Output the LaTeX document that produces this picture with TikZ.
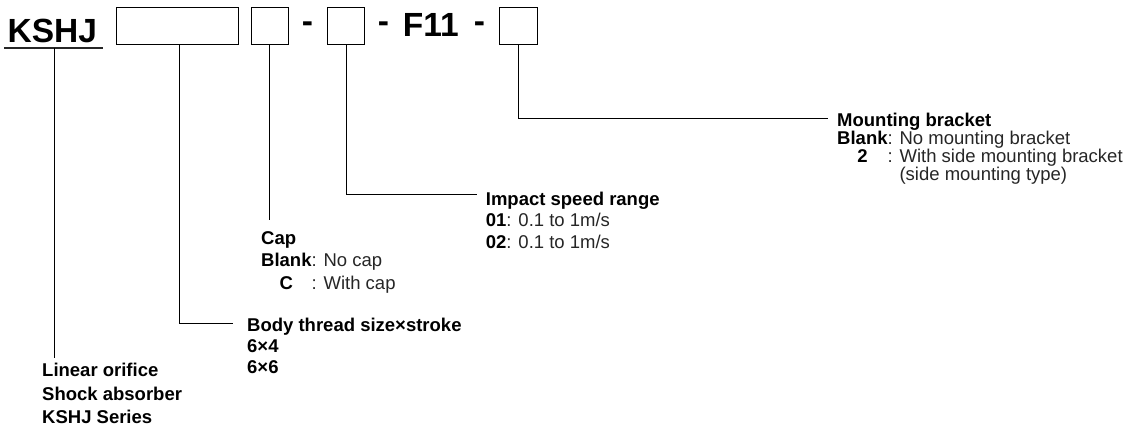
\documentclass[tikz,border=0pt]{standalone}
\usepackage{fontspec}
\setmainfont{Liberation Sans}
\begin{document}
\begin{tikzpicture}[x=1pt,y=-1pt,
  pbox/.style={draw=black, line width=1.1pt, minimum height=37pt, inner sep=0pt, anchor=north west},
  lead/.style={draw=black, line width=0.9pt},
  big/.style={font=\fontsize{33.5}{36}\selectfont\bfseries, inner sep=0pt, anchor=base west},
  desc/.style={font=\fontsize{18.5}{22}\selectfont, text=black!85, inner sep=0pt, anchor=base west},
]
\useasboundingbox (0,0) rectangle (1131,429);

% code boxes
\node[pbox, minimum width=122pt]  (b1) at (116,6.7) {};
\node[pbox, minimum width=37.5pt] (b2) at (250.7,6.7) {};
\node[pbox, minimum width=37.5pt] (b3) at (326.7,6.7) {};
\node[pbox, minimum width=37.5pt] (b4) at (499,6.7) {};

% code text
\node[big] (kshj) at (7.5,42.7) {KSHJ};
\node[big] (d1) at (301.7,32.7) {-};
\node[big] (d2) at (377.7,32.7) {-};
\node[big] (f11) at (402.6,36.7) {F11};
\node[big] (d3) at (473.7,32.7) {-};

% underline
\coordinate (u1) at (4,47.7);
\coordinate (u2) at (103,47.7);
\draw[line width=1.6pt, black!85] (u1) -- (u2);

% descriptions
\node[desc] (mount) at (837,126.7) {\fontsize{18.5}{17.8}\selectfont
  \begin{tabular}[t]{@{}c@{}l@{}}
  \multicolumn{2}{@{}l@{}}{\smash{\textbf{\color{black}Mounting bracket}}}\\
  \smash{\textbf{\color{black}Blank}} & \smash{: No mounting bracket}\\
  \smash{\textbf{\color{black}2}} & \smash{: With side mounting bracket}\\
   & \smash{\phantom{: }(side mounting type)}
  \end{tabular}};

\node[desc] (speed) at (485.7,205) {\fontsize{18.5}{21.7}\selectfont
  \begin{tabular}[t]{@{}l@{}}
  \textbf{\color{black}Impact speed range}\\
  \textbf{\color{black}01}: 0.1 to 1m/s\\
  \textbf{\color{black}02}: 0.1 to 1m/s
  \end{tabular}};

\node[desc] (cap) at (261,244) {\fontsize{18.5}{22.5}\selectfont
  \begin{tabular}[t]{@{}c@{}l@{}}
  \multicolumn{2}{@{}l@{}}{\textbf{\color{black}Cap}}\\
  \textbf{\color{black}Blank} & : No cap\\
  \textbf{\color{black}C} & : With cap
  \end{tabular}};

\node[desc] (body) at (247,331.7) {\fontsize{18.5}{21}\selectfont\bfseries\color{black}
  \begin{tabular}[t]{@{}l@{}}
  Body thread size×stroke\\
  6×4\\
  6×6
  \end{tabular}};

\node[desc] (series) at (42,376.7) {\fontsize{18.5}{23.3}\selectfont\bfseries\color{black}
  \begin{tabular}[t]{@{}l@{}}
  Linear orifice\\
  Shock absorber\\
  KSHJ Series
  \end{tabular}};

% leader lines
\coordinate (k0) at (54,47.7);
\coordinate (k1) at (54,358);
\draw[lead] (k0) -- (k1);

\coordinate (c1) at (179.3,323.5);
\coordinate (c1e) at (233,323.5);
\draw[lead] (b1.south -| c1) -- (c1) -- (c1e);

\coordinate (c2) at (269.3,220);
\draw[lead] (b2.south -| c2) -- (c2);

\coordinate (c3) at (346,194);
\coordinate (c3e) at (476.7,194);
\draw[lead] (b3.south -| c3) -- (c3) -- (c3e);

\coordinate (c4) at (518.3,118.3);
\coordinate (c4e) at (828.3,118.3);
\draw[lead] (b4.south -| c4) -- (c4) -- (c4e);
\end{tikzpicture}
\end{document}
